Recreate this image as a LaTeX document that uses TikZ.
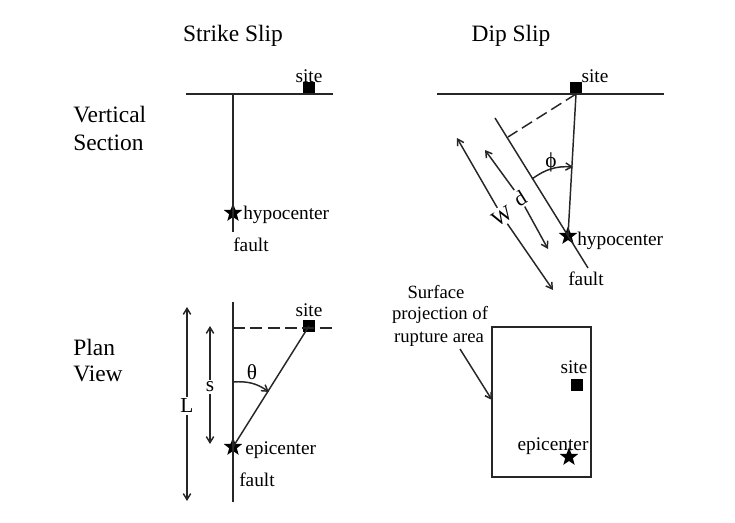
\documentclass[tikz,border=0pt]{standalone}
\usepackage{fontspec}
\setmainfont{Liberation Serif}
\usetikzlibrary{shapes.geometric, arrows.meta}
\tikzset{
  label/.style={inner sep=0pt, font=\fontsize{14.5}{17}\selectfont},
  header/.style={inner sep=0pt, font=\fontsize{17.6}{21}\selectfont},
  note/.style={inner sep=0pt, font=\fontsize{14}{16}\selectfont},
  sitebox/.style={rectangle, fill=black, inner sep=0pt, minimum size=8.8pt},
  epistar/.style={star, star points=5, star point ratio=2.4, fill=black, inner sep=0pt, minimum size=14.5pt},
  line/.style={line width=1.1pt, black!85},
  gap/.style={inner sep=1.5pt, font=\fontsize{16}{19}\selectfont},
  >={Straight Barb[length=4.5pt, width=5.5pt]},
}
\begin{document}
\begin{tikzpicture}[x=0.75pt, y=-0.75pt]
  \useasboundingbox (0, 0) rectangle (735, 523);
  % Headers
  \node (strike) [header] at (233, 36) {Strike Slip};
  \node (dip) [header] at (511, 36) {Dip Slip};
  \node (vertical) [header, anchor=west] at (73, 115) {Vertical};
  \node (section) [header, anchor=west] at (73, 143) {Section};
  \node (plan) [header, anchor=west] at (73, 347) {Plan};
  \node (view) [header, anchor=west] at (73, 374) {View};
  % Strike slip, vertical section
  \coordinate (SSgroundL) at (186, 94);
  \coordinate (SSgroundR) at (333, 94);
  \coordinate (SSfaultT) at (233, 94);
  \coordinate (SSfaultB) at (233, 232);
  \node (SSsite) [sitebox] at (309, 88) {};
  \node (SShypo) [epistar] at (233, 213) {};
  \node (SSsiteL) [label] at (309, 76) {site};
  \node (SShypoL) [label, anchor=west] at (243, 215) {hypocenter};
  \node (SSfaultL) [label] at (251, 245) {fault};
  \draw[line] (SSgroundL) -- (SSgroundR);
  \draw[line] (SSfaultT) -- (SSfaultB);
  % Dip slip, vertical section
  \coordinate (DSgroundL) at (437, 94);
  \coordinate (DSgroundR) at (664, 94);
  \coordinate (DSfaultT) at (495, 118);
  \coordinate (DSfaultB) at (588, 268);
  \coordinate (DSfoot) at (508, 137);
  \coordinate (DSsiteB) at (576, 94);
  \coordinate (DSarcA) at (532, 179);
  \coordinate (DSarcB) at (573, 167);
  \coordinate (DSwT) at (457, 138);
  \coordinate (DSwB) at (553, 290);
  \coordinate (DSdT) at (485, 150);
  \coordinate (DSdB) at (548, 249);
  \node (DSsite) [sitebox] at (576, 88) {};
  \node (DShypo) [epistar] at (568, 236) {};
  \node (DSsiteL) [label] at (595, 76) {site};
  \node (DShypoL) [label, anchor=west] at (577, 241) {hypocenter};
  \node (DSfaultL) [label] at (586, 279) {fault};
  \node (DSphi) [gap] at (551, 162) {ϕ};
  \node (DSw) [gap, rotate=32] at (502, 216) {W};
  \node (DSd) [gap, rotate=32] at (520, 198) {d};
  \draw[line] (DSgroundL) -- (DSgroundR);
  \draw[line] (DSfaultT) -- (DSfaultB);
  \draw[line, dashed, dash pattern=on 9pt off 4pt] (DSsiteB) -- (DSfoot);
  \draw[line] (DSsiteB) -- (DShypo.center);
  \draw[line, ->] (DSarcA) to[bend left=20] (DSarcB);
  \draw[line, ->] (DSw) -- (DSwT);
  \draw[line, ->] (DSw) -- (DSwB);
  \draw[line, ->] (DSd) -- (DSdT);
  \draw[line, ->] (DSd) -- (DSdB);
  % Strike slip, plan view
  \coordinate (PSfaultT) at (233, 302);
  \coordinate (PSfaultB) at (233, 502);
  \coordinate (PSdashL) at (233, 328);
  \coordinate (PSdashR) at (332, 328);
  \coordinate (PSarcA) at (233, 382);
  \coordinate (PSarcB) at (269, 392);
  \coordinate (PSsT) at (210, 326);
  \coordinate (PSsB) at (210, 444);
  \coordinate (PSlT) at (187, 307);
  \coordinate (PSlB) at (187, 501);
  \node (PSsite) [sitebox] at (309, 326) {};
  \node (PSepi) [epistar] at (233, 447) {};
  \node (PSsiteL) [label] at (309, 310) {site};
  \node (PSepiL) [label, anchor=west] at (245, 450) {epicenter};
  \node (PSfaultL) [label] at (257, 480) {fault};
  \node (PStheta) [gap] at (252, 372) {θ};
  \node (PSs) [gap] at (210, 387) {s};
  \node (PSl) [gap] at (187, 406) {L};
  \draw[line] (PSfaultT) -- (PSfaultB);
  \draw[line, dashed, dash pattern=on 9pt off 4pt] (PSdashL) -- (PSdashR);
  \draw[line] (PSsite.center) -- (PSepi.center);
  \draw[line, ->] (PSarcA) to[bend left=20] (PSarcB);
  \draw[line, ->] (PSs) -- (PSsT);
  \draw[line, ->] (PSs) -- (PSsB);
  \draw[line, ->] (PSl) -- (PSlT);
  \draw[line, ->] (PSl) -- (PSlB);
  % Dip slip, plan view
  \coordinate (PDarrowT) at (460, 349);
  \coordinate (PDarrowB) at (492, 400);
  \node (PDarea) [rectangle, line, draw, minimum width=74pt, minimum height=112.5pt, inner sep=0pt] at (541.5, 402) {};
  \node (PDsite) [sitebox] at (577, 385) {};
  \node (PDepi) [epistar] at (569, 457) {};
  \node (PDsiteL) [label] at (574, 367) {site};
  \node (PDepiL) [label] at (553, 446) {epicenter};
  \node (PDs1) [note] at (436, 292) {Surface};
  \node (PDs2) [note] at (440, 315) {projection of};
  \node (PDs3) [note] at (439, 339) {rupture area};
  \draw[line, ->] (PDarrowT) -- (PDarrowB);
\end{tikzpicture}
\end{document}
